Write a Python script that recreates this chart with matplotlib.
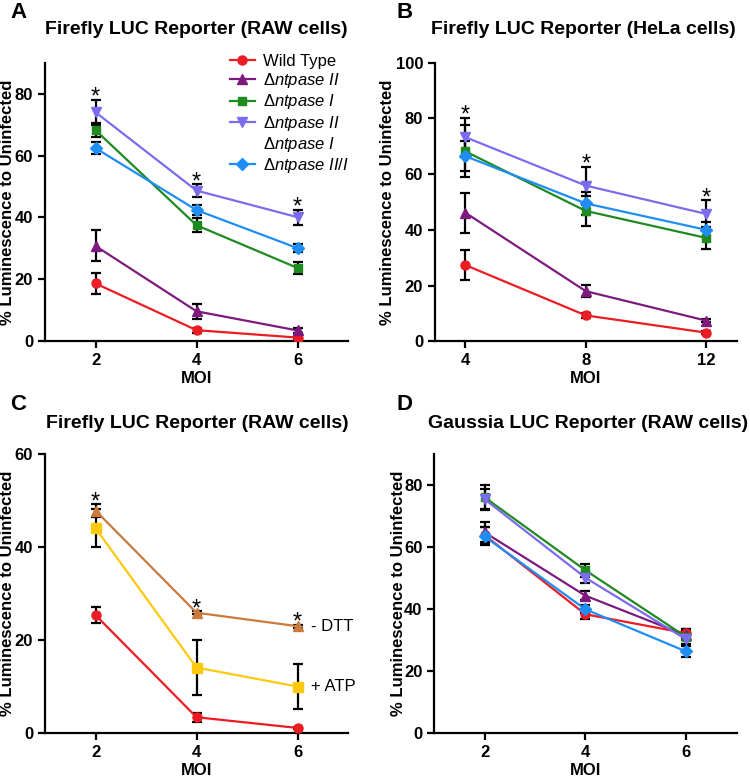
import matplotlib
matplotlib.use("Agg")
import matplotlib.pyplot as plt
from matplotlib.lines import Line2D

plt.rcParams['font.family'] = ['Liberation Sans', 'DejaVu Sans']
plt.rcParams['mathtext.fontset'] = 'custom'
plt.rcParams['mathtext.rm'] = 'Liberation Sans'
plt.rcParams['mathtext.it'] = 'Liberation Sans:italic'

# ---- data ----
moi_raw = [2, 4, 6]
moi_hela = [4, 8, 12]

# A: Firefly LUC, RAW cells
a_wt = [18.7, 3.6, 1.2]
a_wt_err = [3.3, 0.8, 0.5]
a_ii = [30.8, 9.7, 3.5]
a_ii_err = [5.0, 2.5, 0.8]
a_i = [68.2, 37.5, 23.7]
a_i_err = [2.2, 2.3, 1.9]
a_ii_i = [74.0, 48.7, 40.1]
a_ii_i_err = [4.0, 2.0, 2.4]
a_dbl = [62.4, 42.4, 30.1]
a_dbl_err = [1.9, 1.5, 1.3]

# B: Firefly LUC, HeLa cells
b_wt = [27.4, 9.3, 3.1]
b_wt_err = [5.5, 0.8, 0.5]
b_ii = [46.2, 18.0, 7.4]
b_ii_err = [7.2, 2.2, 0.6]
b_i = [68.2, 46.8, 37.1]
b_i_err = [9.4, 5.5, 4.0]
b_ii_i = [73.3, 55.9, 45.7]
b_ii_i_err = [7.0, 6.8, 5.0]
b_dbl = [66.5, 49.5, 40.0]
b_dbl_err = [5.5, 4.0, 2.7]

# C: Firefly LUC, RAW cells, -DTT / +ATP
c_wt = [25.4, 3.4, 1.1]
c_wt_err = [1.7, 1.0, 0.3]
c_atp = [44.1, 14.1, 10.0]
c_atp_err = [4.1, 6.0, 4.8]
c_dtt = [47.9, 25.9, 23.0]
c_dtt_err = [1.4, 0.3, 0.3]

# D: Gaussia LUC, RAW cells
d_wt = [63.8, 38.3, 32.2]
d_wt_err = [2.5, 1.6, 1.5]
d_ii = [64.7, 44.3, 31.5]
d_ii_err = [3.2, 1.5, 1.5]
d_i = [76.0, 52.5, 31.0]
d_i_err = [4.0, 2.1, 2.5]
d_ii_i = [75.4, 50.1, 30.2]
d_ii_i_err = [3.3, 1.6, 1.5]
d_dbl = [63.4, 39.9, 26.3]
d_dbl_err = [2.9, 1.3, 1.7]

labels = ['Wild Type',
          r'$\Delta\mathit{ntpase\ II}$',
          r'$\Delta\mathit{ntpase\ I}$',
          r'$\Delta\mathit{ntpase\ II}$',
          r'$\Delta\mathit{ntpase\ I}$',
          r'$\Delta\mathit{ntpase\ II/I}$']

RED = '#EC1C24'
PURPLE = '#7E1A7E'
GREEN = '#1F8A1F'
LAVENDER = '#7B6CEE'
BLUE = '#1E8EF5'
BROWN = '#C97A3C'
YELLOW = '#FCC90E'

styles = [(RED, 'o', 6.5), (PURPLE, '^', 7), (GREEN, 's', 6),
          (LAVENDER, 'v', 7), (BLUE, 'D', 6)]


def draw(ax, x, y, err, color, marker, ms):
    ax.errorbar(x, y, yerr=err, fmt='none', ecolor='black', elinewidth=1.6,
                capsize=3.5, capthick=1.6, zorder=2)
    ax.plot(x, y, color=color, marker=marker, ms=ms, lw=1.6, zorder=3)


def stars(ax, x, series):
    for i, xi in enumerate(x):
        top = max(s[0][i] + s[1][i] for s in series)
        ax.annotate('*', (xi, top), xytext=(0, -3), textcoords='offset points',
                    ha='center', va='baseline', fontsize=17)


def style_axes(ax, xticks, ymax, ystep):
    ax.spines['top'].set_visible(False)
    ax.spines['right'].set_visible(False)
    for s in ('left', 'bottom'):
        ax.spines[s].set_linewidth(1.6)
    ax.set_xticks(xticks)
    ax.set_yticks(range(0, ymax + 1, ystep))
    ax.tick_params(direction='out', length=5, width=1.6, labelsize=12)
    for lbl in ax.get_xticklabels() + ax.get_yticklabels():
        lbl.set_fontweight('bold')
    ax.set_xlabel('MOI', fontsize=12, fontweight='bold')
    ax.set_ylabel('% Luminescence to Uninfected', fontsize=12, fontweight='bold')
    ax.xaxis.set_label_coords(0.5, -0.108)


fig = plt.figure(figsize=(7.5, 7.78), dpi=100)
axA = fig.add_axes([0.060, 0.5613, 0.404, 0.3581])
axB = fig.add_axes([0.580, 0.5613, 0.402, 0.3581])
axC = fig.add_axes([0.060, 0.0578, 0.404, 0.3582])
axD = fig.add_axes([0.579, 0.0578, 0.403, 0.3587])

# ---- A ----
a_series = [(a_wt, a_wt_err), (a_ii, a_ii_err), (a_i, a_i_err),
            (a_ii_i, a_ii_i_err), (a_dbl, a_dbl_err)]
for (y, e), (c, m, ms) in zip(a_series, styles):
    draw(axA, moi_raw, y, e, c, m, ms)
stars(axA, moi_raw, a_series)
axA.set_xlim(1, 7)
axA.set_ylim(0, 90)
style_axes(axA, moi_raw, 80, 20)
axA.yaxis.set_label_coords(-0.10, 0.5)

handles = [Line2D([], [], color=c, marker=m, ms=ms, lw=1.6) for c, m, ms in styles]
handles.insert(4, Line2D([], [], lw=0, marker=None))
axA.legend(handles, labels, loc='upper left', bbox_to_anchor=(0.61, 1.031),
           frameon=False, fontsize=12, handlelength=1.5, handletextpad=0.5,
           labelspacing=0.13, borderpad=0, borderaxespad=0)

# ---- B ----
b_series = [(b_wt, b_wt_err), (b_ii, b_ii_err), (b_i, b_i_err),
            (b_ii_i, b_ii_i_err), (b_dbl, b_dbl_err)]
for (y, e), (c, m, ms) in zip(b_series, styles):
    draw(axB, moi_hela, y, e, c, m, ms)
stars(axB, moi_hela, b_series)
axB.set_xlim(3, 13)
axB.set_ylim(0, 100)
style_axes(axB, moi_hela, 100, 20)
axB.yaxis.set_label_coords(-0.133, 0.5)

# ---- C ----
c_series = [(c_wt, c_wt_err), (c_atp, c_atp_err), (c_dtt, c_dtt_err)]
for (y, e), (c, m, ms) in zip(c_series, [(RED, 'o', 6.5), (YELLOW, 's', 6.5), (BROWN, '^', 7)]):
    draw(axC, moi_raw, y, e, c, m, ms)
stars(axC, moi_raw, c_series[1:])
axC.text(6.27, c_dtt[-1], '- DTT', fontsize=12, va='center', ha='left')
axC.text(6.27, c_atp[-1], '+ ATP', fontsize=12, va='center', ha='left')
axC.set_xlim(1, 7)
axC.set_ylim(0, 60)
style_axes(axC, moi_raw, 60, 20)
axC.yaxis.set_label_coords(-0.10, 0.5)

# ---- D ----
d_series = [(d_wt, d_wt_err), (d_ii, d_ii_err), (d_i, d_i_err),
            (d_ii_i, d_ii_i_err), (d_dbl, d_dbl_err)]
for (y, e), (c, m, ms) in zip(d_series, styles):
    draw(axD, moi_raw, y, e, c, m, ms)
axD.set_xlim(1, 7)
axD.set_ylim(0, 90)
style_axes(axD, moi_raw, 80, 20)
axD.yaxis.set_label_coords(-0.094, 0.5)

# titles and panel letters
titles = ['Firefly LUC Reporter (RAW cells)', 'Firefly LUC Reporter (HeLa cells)',
          'Firefly LUC Reporter (RAW cells)', 'Gaussia LUC Reporter (RAW cells)']
title_pos = [(196 / 750, 1 - 29 / 778), (583 / 750, 1 - 29 / 778),
             (197 / 750, 1 - 424 / 778), (588 / 750, 1 - 424 / 778)]
for t, (tx, ty) in zip(titles, title_pos):
    fig.text(tx, ty, t, ha='center', va='center', fontsize=14, fontweight='bold')

for letter, (lx, ly) in zip('ABCD', [(10, 12), (397, 12), (10, 404), (397, 404)]):
    fig.text(lx / 750, 1 - ly / 778, letter, ha='left', va='center',
             fontsize=16, fontweight='bold')

fig.savefig('out.png', dpi=100)
